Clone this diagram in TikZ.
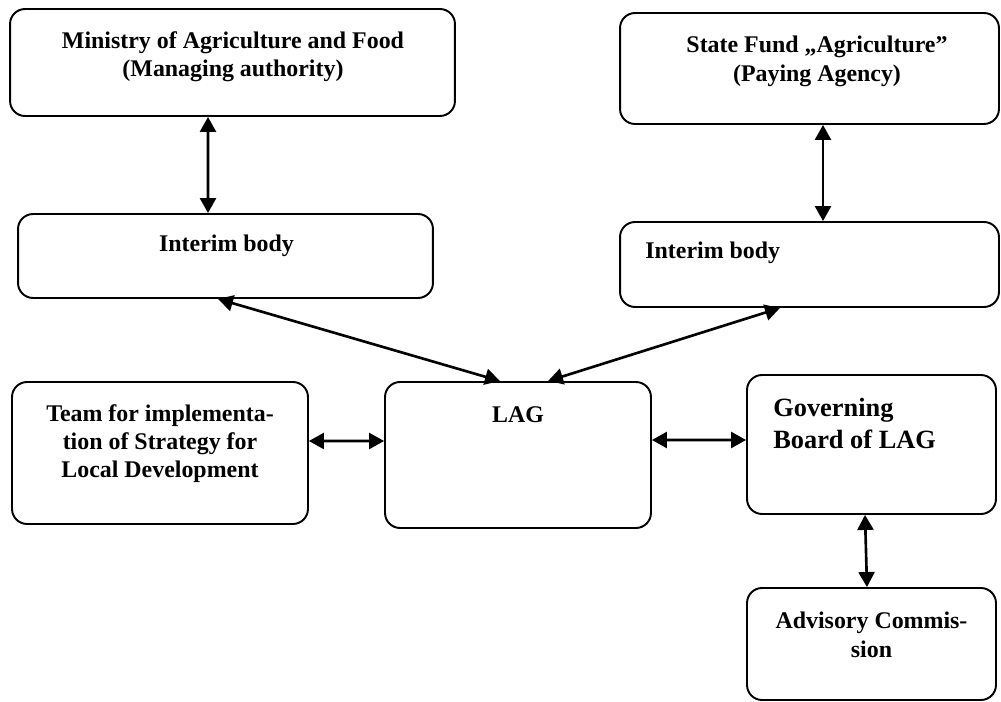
\documentclass[tikz,border=0pt]{standalone}
\usepackage{fontspec}
\setmainfont{Liberation Serif}
\usetikzlibrary{arrows.meta}

\begin{document}
\begin{tikzpicture}[x=0.02cm, y=-0.02cm,
        blk/.style={draw, line width=1.1pt, rounded corners=0.3cm, inner sep=0pt},
        txt/.style={inner sep=0pt, align=center, font=\fontsize{13.6}{16}\selectfont\bfseries},
        link/.style={{Triangle[length=3mm,width=3.2mm]}-{Triangle[length=3mm,width=3.2mm]}, line width=1.5pt}]
        \useasboundingbox (0,0) rectangle (1001,702);
        % boxes
        \node[blk, minimum width=8.9cm, minimum height=2.14cm] (ministry) at (232.5,62.5) {};
        \node[blk, minimum width=8.3cm, minimum height=1.68cm] (intA) at (225.5,256) {};
        \node[blk, minimum width=7.58cm, minimum height=2.22cm] (fund) at (809.5,68.5) {};
        \node[blk, minimum width=7.58cm, minimum height=1.7cm] (intB) at (809.5,264.5) {};
        \node[blk, minimum width=5.92cm, minimum height=2.84cm] (team) at (160,453) {};
        \node[blk, minimum width=5.32cm, minimum height=2.92cm] (lag) at (518,455) {};
        \node[blk, minimum width=4.98cm, minimum height=2.78cm] (gov) at (871.5,444.5) {};
        \node[blk, minimum width=4.98cm, minimum height=2.24cm] (adv) at (871.5,644) {};
        % texts
        \node[txt, anchor=north] (ministryTxt) at (233,31) {Ministry of Agriculture and Food\\(Managing authority)};
        \node[txt, anchor=north] (fundTxt) at (817,36) {State Fund „Agriculture”\\(Paying Agency)};
        \node[txt, anchor=north] (intATxt) at (226.5,235) {Interim body};
        \node[txt, anchor=north west] (intBTxt) at (645,242) {Interim body};
        \node[txt, anchor=north] (teamTxt) at (160,404) {Team for implementa-\\tion of Strategy for\\Local Development};
        \node[txt, anchor=north] (lagTxt) at (518,406) {LAG};
        \node[txt, anchor=north west, align=left, font=\fontsize{15}{18.2}\selectfont\bfseries] (govTxt) at (773,398) {Governing\\Board of LAG};
        \node[txt, anchor=north] (advTxt) at (871.5,612) {Advisory Commis-\\sion};
        % links
        \draw[link] ([xshift=-0.49cm]ministry.south) -- ([xshift=-0.35cm]intA.north);
        \draw[link] ([xshift=0.27cm]fund.south) -- ([xshift=0.27cm]intB.north);
        \draw[link] ([xshift=-0.15cm]intA.south) -- ([xshift=-0.36cm]lag.north);
        \draw[link] ([xshift=-0.59cm]intB.south) -- ([xshift=0.6cm]lag.north);
        \draw[link] ([yshift=0.24cm]team.east) -- ([yshift=0.28cm]lag.west);
        \draw[link] ([yshift=0.3cm]lag.east) -- ([yshift=0.09cm]gov.west);
        \draw[link] ([xshift=-0.13cm]gov.south) -- ([xshift=-0.09cm]adv.north);
\end{tikzpicture}
\end{document}
